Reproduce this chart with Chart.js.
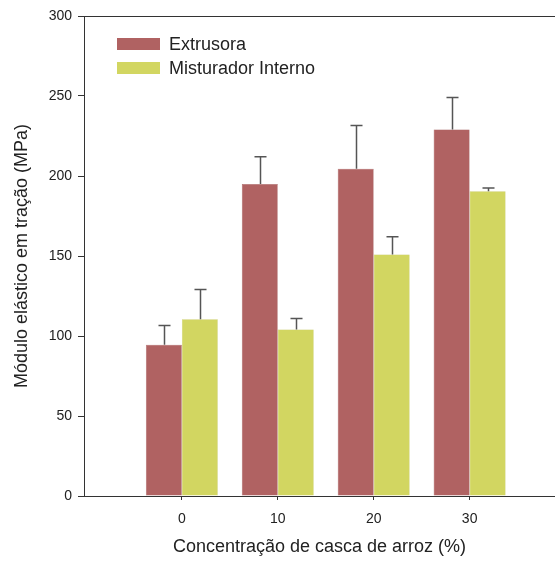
<!DOCTYPE html>
<html>
<head>
<meta charset="utf-8">
<script src="https://cdn.jsdelivr.net/npm/chart.js@4.4.1/dist/chart.umd.min.js"></script>
<style>
  html, body { margin: 0; padding: 0; background: #fff; overflow: hidden; }
  #wrap { width: 555px; height: 563px; position: relative; }
</style>
</head>
<body>
<div id="wrap"><canvas id="chart"></canvas></div>
<script>
// data
const concentrations = [0, 10, 20, 30];
const extrusora = [94.5, 195, 204.5, 229];
const extrusoraErr = [12, 17, 27, 20];
const misturador = [110.5, 104, 151, 190.5];
const misturadorErr = [18.5, 7, 11, 2];
const yTicks = [0, 50, 100, 150, 200, 250, 300];

const labelFont = { family: 'Arial, "Liberation Sans", sans-serif', size: 14 };
const titleFont = { family: 'Arial, "Liberation Sans", sans-serif', size: 18 };
const inkColor = '#333';

// upward error bars with caps
const errorBars = {
  id: 'errorBars',
  afterDatasetsDraw(chart) {
    const c = chart.ctx;
    const yScale = chart.scales.y;
    c.save();
    c.strokeStyle = '#555';
    c.lineWidth = 1.5;
    chart.data.datasets.forEach((ds, di) => {
      const meta = chart.getDatasetMeta(di);
      meta.data.forEach((bar, i) => {
        const v = ds.data[i].y;
        const top = yScale.getPixelForValue(v + ds.errors[i]);
        const x = Math.round(bar.x) + 0.5;
        c.beginPath();
        c.moveTo(x, bar.y);
        c.lineTo(x, top);
        c.moveTo(x - 6, top);
        c.lineTo(x + 6, top);
        c.stroke();
      });
    });
    c.restore();
  }
};

// top frame line + legend inside plot
const frameAndLegend = {
  id: 'frameAndLegend',
  afterDraw(chart) {
    const c = chart.ctx;
    const a = chart.chartArea;
    c.save();
    c.strokeStyle = inkColor;
    c.lineWidth = 1;
    c.beginPath();
    c.moveTo(a.left, a.top + 0.5);
    c.lineTo(a.right, a.top + 0.5);
    c.stroke();

    c.font = '18px Arial, "Liberation Sans", sans-serif';
    c.textBaseline = 'middle';
    chart.data.datasets.forEach((ds, i) => {
      const y = a.top + 28 + i * 24;
      c.fillStyle = ds.backgroundColor;
      c.fillRect(a.left + 33, y - 6, 43, 12);
      c.fillStyle = '#222';
      c.fillText(ds.label, a.left + 85, y + 1);
    });
    c.restore();
  }
};

new Chart(document.getElementById('chart'), {
  type: 'bar',
  data: {
    datasets: [
      {
        label: 'Extrusora',
        data: concentrations.map((x, i) => ({ x: x, y: extrusora[i] })),
        errors: extrusoraErr,
        backgroundColor: '#b06262',
        borderColor: '#9c5454',
        borderWidth: 0.5
      },
      {
        label: 'Misturador Interno',
        data: concentrations.map((x, i) => ({ x: x, y: misturador[i] })),
        errors: misturadorErr,
        backgroundColor: '#d2d661',
        borderColor: '#bfc354',
        borderWidth: 0.5
      }
    ]
  },
  options: {
    responsive: true,
    maintainAspectRatio: false,
    animation: false,
    layout: { padding: { top: 16, right: 0, left: 0, bottom: 0 } },
    datasets: { bar: { categoryPercentage: 0.75, barPercentage: 1.0 } },
    scales: {
      x: {
        type: 'linear',
        min: -10.2,
        max: 38.9,
        offset: false,
        afterBuildTicks: (s) => { s.ticks = concentrations.map(v => ({ value: v })); },
        grid: { display: true, offset: false, drawOnChartArea: false, drawTicks: true, tickLength: 4, color: inkColor },
        border: { display: true, color: inkColor, width: 1 },
        ticks: { color: '#222', font: labelFont, padding: 11 },
        title: { display: true, text: 'Concentração de casca de arroz (%)', color: '#222', font: titleFont, padding: { top: 0, bottom: 5 } },
        afterFit: (s) => { s.height = 67; }
      },
      y: {
        min: 0,
        max: 300,
        afterBuildTicks: (s) => { s.ticks = yTicks.map(v => ({ value: v })); },
        grid: { display: true, drawOnChartArea: false, drawTicks: true, tickLength: 6, color: inkColor },
        border: { display: true, color: inkColor, width: 1 },
        ticks: { color: '#222', font: labelFont, padding: 6 },
        title: { display: true, text: 'Módulo elástico em tração (MPa)', color: '#222', font: titleFont, padding: { top: 11, bottom: 0 } },
        afterFit: (s) => { s.width = 84; }
      }
    },
    plugins: {
      legend: { display: false },
      tooltip: { enabled: false }
    }
  },
  plugins: [errorBars, frameAndLegend]
});
</script>
</body>
</html>
